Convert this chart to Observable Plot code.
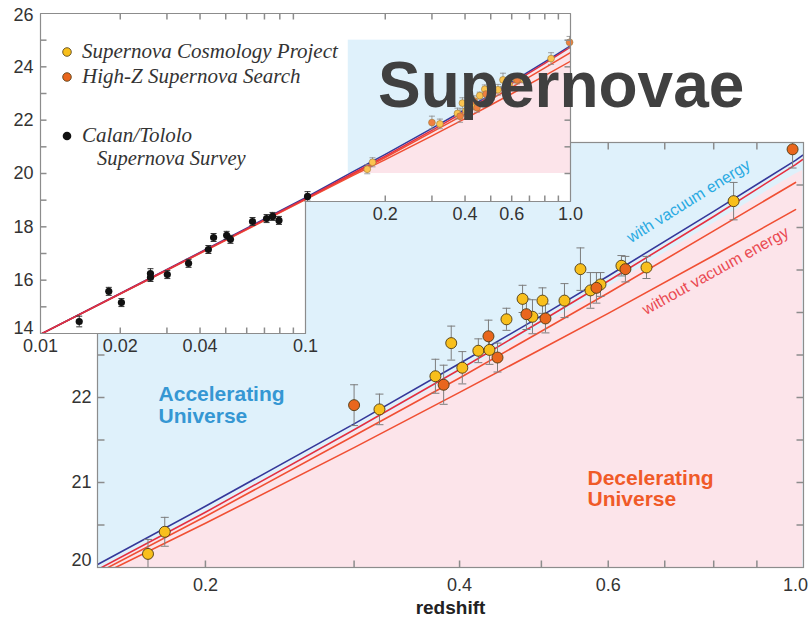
<!DOCTYPE html>
<html>
<head>
<meta charset="utf-8">
<script src="https://cdn.jsdelivr.net/npm/d3@7"></script>
<script src="https://cdn.jsdelivr.net/npm/@observablehq/plot@0.6"></script>
<style>
  body { margin: 0; background: #fff; }
  #chart { position: relative; width: 812px; height: 623px; overflow: hidden; font-family: "Liberation Sans", Arial, sans-serif; }
  #chart > svg { position: absolute; left: 0; top: 0; }
</style>
</head>
<body>
<div id="chart"></div>
<script>
// ---- Supernova Cosmology Project (high redshift) ----
const scpZ   = [0.171, 0.179, 0.3215, 0.3745, 0.391, 0.403, 0.421, 0.434, 0.4546, 0.475, 0.488, 0.5015, 0.5325, 0.5562, 0.5716, 0.5875, 0.622, 0.666, 0.8446];
const scpM   = [20.16, 20.42, 21.86, 22.25, 22.64, 22.35, 22.55, 22.56, 22.92, 23.16, 22.95, 23.14, 23.14, 23.51, 23.26, 23.33, 23.55, 23.53, 24.31];
const scpErr = [0.17, 0.17, 0.18, 0.20, 0.20, 0.19, 0.14, 0.17, 0.13, 0.16, 0.20, 0.15, 0.20, 0.25, 0.21, 0.14, 0.12, 0.13, 0.22];

// ---- High-Z Supernova Search ----
const hzZ   = [0.300, 0.383, 0.4328, 0.4436, 0.480, 0.5056, 0.581, 0.6288, 0.992];
const hzM   = [21.91, 22.15, 22.72, 22.47, 22.98, 22.93, 23.29, 23.51, 24.92];
const hzErr = [0.24, 0.23, 0.19, 0.17, 0.18, 0.17, 0.18, 0.15, 0.22];

// ---- Calan/Tololo Supernova Survey (nearby) ----
const ctZ   = [0.0140, 0.0181, 0.0202, 0.0260, 0.0260, 0.0301, 0.0362, 0.0430, 0.0450, 0.0504, 0.0521, 0.0631, 0.0713, 0.0751, 0.0794, 0.1018];
const ctM   = [14.45, 15.58, 15.16, 16.25, 16.10, 16.21, 16.63, 17.15, 17.60, 17.68, 17.53, 18.20, 18.31, 18.39, 18.24, 19.14];
const ctErr = [0.20, 0.15, 0.15, 0.18, 0.15, 0.15, 0.15, 0.15, 0.15, 0.15, 0.15, 0.15, 0.15, 0.15, 0.15, 0.18];

// ---- Model magnitude–redshift curves ----
const curveZ        = [0.01, 0.03, 0.1, 0.15, 0.2, 0.3, 0.4, 0.5, 0.6, 0.8, 1.0, 1.02];
const withVacuum    = [13.97, 16.40, 19.09, 20.05, 20.72, 21.69, 22.40, 22.96, 23.43, 24.19, 24.79, 24.85];
const bestFit       = [13.97, 16.39, 19.06, 19.99, 20.65, 21.62, 22.33, 22.90, 23.37, 24.13, 24.74, 24.80];
const lowMatter     = [13.97, 16.38, 19.04, 19.95, 20.60, 21.55, 22.23, 22.78, 23.23, 23.96, 24.53, null];
const withoutVacuum = [13.97, 16.37, 19.02, 19.91, 20.52, 21.41, 22.06, 22.57, 22.99, 23.67, 24.21, null];
const regionEdge    = [null, null, null, 19.97, 20.63, 21.59, 22.28, 22.84, 23.30, 24.05, 24.63, 24.67];

// ---- Axis ticks ----
const mainXTicks  = [0.2, 0.3, 0.4, 0.5, 0.6, 0.7, 0.8, 0.9];
const mainXLabels = [0.2, 0.4, 0.6, 1.0];
const mainYTicks  = [20.5, 21, 21.5, 22, 22.5, 23, 23.5, 24, 24.5];
const mainYLabels = [21, 22];
const insetLowTicks  = [0.02, 0.03, 0.04, 0.05, 0.06, 0.07, 0.08, 0.09];
const insetHighTicks = [0.2, 0.3, 0.4, 0.5, 0.6, 0.7, 0.8, 0.9];
const insetLowLabels  = [0.01, 0.02, 0.04, 0.1];
const insetHighLabels = [0.2, 0.4, 0.6, 1.0];
const insetYTicks  = [15, 16, 17, 18, 19, 20, 21, 22, 23, 24, 25];
const insetYRight  = [20, 21, 22, 23, 24, 25];
const insetYLabels = [16, 18, 20, 22, 24];

// ---- Colours ----
const SKY = "#dff1fb", ROSE = "#fce4ea", FRAME = "#8c8c8c", TEXT = "#333";
const YELLOW = "#f8bf1c", ORANGE = "#e9661d";
const BLUE_LINE = "#35389a", RED_LINE = "#e62f40", ORANGE_LINE = "#f04f33";

const rows = (zs, ms, es) => zs.map((z, i) => ({z, m: ms[i], e: es[i]}));
const scp = rows(scpZ, scpM, scpErr);
const hz = rows(hzZ, hzM, hzErr);
const ct = rows(ctZ, ctM, ctErr);
const curves = curveZ.map((z, i) => ({
  z, blue: withVacuum[i], fit: bestFit[i], low: lowMatter[i], none: withoutVacuum[i], edge: regionEdge[i]
}));

// small path symbols: error-bar caps and inward axis ticks
const cap = {draw(c, s) { const r = Math.sqrt(s / Math.PI); c.moveTo(-r, 0); c.lineTo(r, 0); }};
const tickUp = {draw(c, s) { const r = Math.sqrt(s / Math.PI); c.moveTo(0, 0); c.lineTo(0, -r); }};
const tickDown = {draw(c, s) { const r = Math.sqrt(s / Math.PI); c.moveTo(0, 0); c.lineTo(0, r); }};
const tickRight = {draw(c, s) { const r = Math.sqrt(s / Math.PI); c.moveTo(0, 0); c.lineTo(r, 0); }};
const tickLeft = {draw(c, s) { const r = Math.sqrt(s / Math.PI); c.moveTo(0, 0); c.lineTo(-r, 0); }};

const SANS = "Liberation Sans, Arial, sans-serif";
const fmt = d => d >= 1 ? d.toFixed(1) : String(d);

function errorMarks(data, {color, width, capR}) {
  return [
    Plot.ruleX(data, {x: "z", y1: d => d.m - d.e, y2: d => d.m + d.e, stroke: color, strokeWidth: width, clip: true}),
    Plot.dot(data, {x: "z", y: d => d.m + d.e, symbol: cap, r: capR, fill: "none", stroke: color, strokeWidth: width, clip: true}),
    Plot.dot(data, {x: "z", y: d => d.m - d.e, symbol: cap, r: capR, fill: "none", stroke: color, strokeWidth: width, clip: true})
  ];
}

function curveMarks(width) {
  return [
    Plot.line(curves, {x: "z", y: "none", stroke: ORANGE_LINE, strokeWidth: width, clip: true}),
    Plot.line(curves, {x: "z", y: "low", stroke: ORANGE_LINE, strokeWidth: width, clip: true}),
    Plot.line(curves, {x: "z", y: "blue", stroke: BLUE_LINE, strokeWidth: width, clip: true}),
    Plot.line(curves, {x: "z", y: "fit", stroke: RED_LINE, strokeWidth: width, clip: true})
  ];
}

// ================= Main (zoomed) panel =================
const X0 = 0.149, X1 = 1.022, Y0 = 20, Y1 = 25;
const main = Plot.plot({
  width: 812, height: 623,
  marginLeft: 97, marginRight: 9, marginTop: 142, marginBottom: 56,
  x: {type: "log", domain: [X0, X1], axis: null},
  y: {domain: [Y0, Y1], axis: null},
  style: {background: "white", fontFamily: SANS},
  marks: [
    Plot.frame({fill: SKY}),
    Plot.areaY(curves, {x: "z", y1: Y0, y2: "edge", fill: ROSE, clip: true}),
    ...curveMarks(1.6),
    Plot.text(["with vacuum energy"], {x: 0.747, y: 24.31, rotate: -32, fontSize: 16, fill: "#2aaae2"}),
    Plot.text(["without vacuum energy"], {x: 0.804, y: 23.49, rotate: -29, fontSize: 16, fill: "#ea4a52"}),
    Plot.text(["Accelerating\nUniverse"], {x: 0.176, y: 21.91, textAnchor: "start", lineAnchor: "middle", lineHeight: 1.05, fontSize: 21, fontWeight: "bold", fill: "#3597d3"}),
    Plot.text(["Decelerating\nUniverse"], {x: 0.567, y: 20.93, textAnchor: "start", lineAnchor: "middle", lineHeight: 1.0, fontSize: 21, fontWeight: "bold", fill: "#f05a28"}),
    ...errorMarks(scp, {color: "#7d7d7d", width: 1, capR: 4}),
    ...errorMarks(hz, {color: "#7d7d7d", width: 1, capR: 4}),
    Plot.dot(scp, {x: "z", y: "m", r: 5.5, fill: YELLOW, stroke: "#4d3a12", strokeWidth: 0.9}),
    Plot.dot(hz, {x: "z", y: "m", r: 5.5, fill: ORANGE, stroke: "#4d3a12", strokeWidth: 0.9}),
    // inward ticks
    Plot.dot(mainXTicks, {x: d => d, y: Y0, symbol: tickUp, r: 7, fill: "none", stroke: FRAME}),
    Plot.dot(mainXTicks, {x: d => d, y: Y1, symbol: tickDown, r: 7, fill: "none", stroke: FRAME}),
    Plot.dot(mainYTicks, {x: X0, y: d => d, symbol: tickRight, r: 7, fill: "none", stroke: FRAME}),
    Plot.dot(mainYTicks, {x: X1, y: d => d, symbol: tickLeft, r: 7, fill: "none", stroke: FRAME}),
    Plot.frame({stroke: FRAME, strokeWidth: 1.2}),
    // tick labels (the upper ones lie under the inset)
    Plot.text(mainXLabels, {x: d => d, y: Y0, text: fmt, dy: 18, fontSize: 18, fill: TEXT}),
    Plot.text(mainYLabels, {x: X0, y: d => d, text: String, textAnchor: "end", dx: -6, fontSize: 18, fill: TEXT}),
    Plot.text([Y0], {x: X0, y: d => d, text: String, textAnchor: "end", dx: -6, dy: -7, fontSize: 18, fill: TEXT}),
    Plot.text(["redshift"], {frameAnchor: "bottom", dy: 46, fontSize: 19, fontWeight: "bold", fill: "#222"})
  ]
});

// ================= Inset (full range) =================
const IX0 = 0.01, IX1 = 1.0, IY0 = 14, IY1 = 26, IBREAK = 18.95, PANEL_Z = 0.145;
const insetBacks = [
  {x1: IX0, x2: 0.1, y1: IY0, y2: IY1},
  {x1: 0.1, x2: IX1, y1: IBREAK, y2: IY1}
];
const insetOutline = [[IX0, IY1], [IX1, IY1], [IX1, IBREAK], [0.1, IBREAK], [0.1, IY0], [IX0, IY0], [IX0, IY1]];
const inset = Plot.plot({
  width: 600, height: 360,
  marginLeft: 40, marginRight: 30, marginTop: 13, marginBottom: 27,
  x: {type: "log", domain: [IX0, IX1], axis: null},
  y: {domain: [IY0, IY1], axis: null},
  style: {background: "transparent", overflow: "visible", fontFamily: SANS},
  marks: [
    Plot.rect(insetBacks, {x1: "x1", x2: "x2", y1: "y1", y2: "y2", fill: "white"}),
    Plot.rect([{x1: PANEL_Z, x2: IX1, y1: 20, y2: 25}], {x1: "x1", x2: "x2", y1: "y1", y2: "y2", fill: SKY}),
    Plot.areaY(curves, {x: "z", y1: 20, y2: "edge", fill: ROSE, clip: true}),
    ...curveMarks(1.5),
    ...errorMarks(scp, {color: "#8a8a8a", width: 0.8, capR: 3}),
    ...errorMarks(hz, {color: "#8a8a8a", width: 0.8, capR: 3}),
    Plot.dot(scp, {x: "z", y: "m", r: 3.4, fill: "#fbc450", stroke: "#9b7a3a", strokeWidth: 0.6}),
    Plot.dot(hz, {x: "z", y: "m", r: 3.4, fill: "#f08040", stroke: "#9b7a3a", strokeWidth: 0.6}),
    ...errorMarks(ct, {color: "#333", width: 1, capR: 3}),
    Plot.dot(ct, {x: "z", y: "m", r: 3.6, fill: "#111"}),
    // inward ticks
    Plot.dot([...insetLowTicks, ...insetHighTicks], {x: d => d, y: IY1, symbol: tickDown, r: 6, fill: "none", stroke: FRAME}),
    Plot.dot(insetLowTicks, {x: d => d, y: IY0, symbol: tickUp, r: 6, fill: "none", stroke: FRAME}),
    Plot.dot(insetHighTicks, {x: d => d, y: IBREAK, symbol: tickUp, r: 6, fill: "none", stroke: FRAME}),
    Plot.dot(insetYTicks, {x: IX0, y: d => d, symbol: tickRight, r: 6, fill: "none", stroke: FRAME}),
    Plot.dot(insetYRight, {x: IX1, y: d => d, symbol: tickLeft, r: 6, fill: "none", stroke: FRAME}),
    Plot.line(insetOutline, {x: d => d[0], y: d => d[1], stroke: FRAME, strokeWidth: 1.2}),
    // tick labels
    Plot.text(insetLowLabels, {x: d => d, y: IY0, text: fmt, dy: 13, fontSize: 18, fill: TEXT}),
    Plot.text(insetHighLabels, {x: d => d, y: IBREAK, text: fmt, dy: 13, fontSize: 18, fill: TEXT}),
    Plot.text(insetYLabels, {x: IX0, y: d => d, text: String, textAnchor: "end", dx: -7, fontSize: 18, fill: TEXT}),
    Plot.text([IY0], {x: IX0, y: d => d, text: String, textAnchor: "end", dx: -7, dy: -5, fontSize: 18, fill: TEXT}),
    Plot.text([IY1], {x: IX0, y: d => d, text: String, textAnchor: "end", dx: -7, dy: 2, fontSize: 18, fill: TEXT})
  ]
});

// ================= Legend and title =================
const legendNames  = [["Supernova Cosmology Project"], ["High-Z Supernova Search"], ["Calan/Tololo", "Supernova Survey"]];
const legendColors = [YELLOW, ORANGE, "#111"];
const legendRows   = [52, 77, 136];

const overlay = d3.create("svg").attr("width", 812).attr("height", 623).style("pointer-events", "none");
const legend = overlay.append("g");
legendNames.forEach((lines, i) => {
  const y = legendRows[i];
  legend.append("circle").attr("cx", 67).attr("cy", y).attr("r", 4.3)
    .attr("fill", legendColors[i]).attr("stroke", i < 2 ? "#4d3a12" : "none").attr("stroke-width", 0.8);
  lines.forEach((t, k) => {
    legend.append("text").attr("x", k === 0 ? 82 : 97).attr("y", y + 6 + k * 23)
      .attr("font-family", "Liberation Serif, Times New Roman, serif").attr("font-style", "italic")
      .attr("font-size", k === 0 ? 21 : 20.5).attr("fill", "#333").text(t);
  });
});
overlay.append("text").attr("x", 378).attr("y", 107)
  .attr("font-family", SANS).attr("font-weight", "bold").attr("font-size", 64)
  .attr("fill", "#404040").text("Supernovae");

const chart = document.getElementById("chart");
chart.append(main, inset, overlay.node());
</script>
</body>
</html>
